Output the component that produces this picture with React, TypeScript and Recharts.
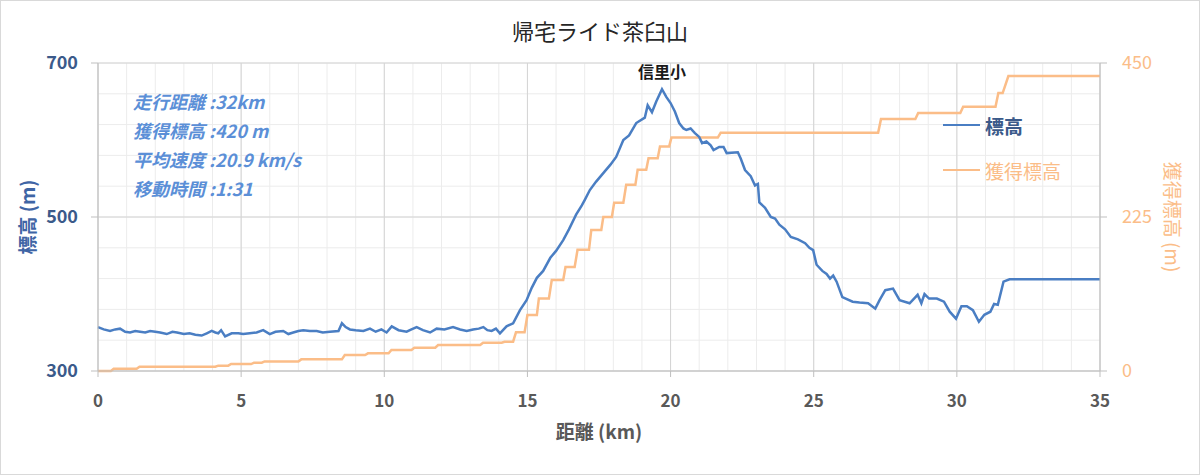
import {
  LineChart,
  Line,
  XAxis,
  YAxis,
  CartesianGrid,
  Label,
  ReferenceDot,
} from "recharts";

const FONT = '"Noto Sans CJK JP", "Noto Sans", sans-serif';

// 標高 (m) vs 距離 (km)
const elevKm = [
  0, 0.2, 0.42, 0.6, 0.77, 0.95, 1.12, 1.3, 1.47, 1.65, 1.82, 2.0, 2.17, 2.4, 2.6, 2.76, 3.0, 3.2, 3.4,
  3.62, 3.8, 3.97, 4.1, 4.2, 4.3, 4.44, 4.67, 4.9, 5.07, 5.3, 5.54, 5.77, 6.0, 6.2, 6.47, 6.65, 6.82,
  7.0, 7.17, 7.4, 7.64, 7.85, 8.1, 8.4, 8.52, 8.65, 8.8, 9.0, 9.27, 9.5, 9.7, 9.9, 10.08, 10.26, 10.5,
  10.78, 10.95, 11.13, 11.35, 11.6, 11.83, 12.1, 12.4, 12.65, 12.88, 13.1, 13.3, 13.46, 13.6, 13.75,
  13.9, 14.04, 14.27, 14.5, 14.74, 14.97, 15.15, 15.33, 15.55, 15.8, 16.0, 16.25, 16.45, 16.7, 16.9,
  17.0, 17.18, 17.4, 17.65, 17.9, 18.1, 18.35, 18.55, 18.8, 19.1, 19.2, 19.35, 19.5, 19.7, 19.85, 20.0,
  20.15, 20.3, 20.45, 20.55, 20.7, 20.85, 21.0, 21.1, 21.25, 21.4, 21.5, 21.7, 21.85, 21.96, 22.35,
  22.45, 22.6, 22.8, 22.95, 23.05, 23.1, 23.3, 23.5, 23.65, 23.8, 24.0, 24.2, 24.45, 24.7, 24.85, 24.98,
  25.1, 25.3, 25.45, 25.57, 25.68, 25.8, 26.0, 26.36, 26.6, 26.9, 27.15, 27.3, 27.5, 27.77, 28.0, 28.35,
  28.63, 28.76, 28.87, 29.03, 29.3, 29.55, 29.75, 29.97, 30.16, 30.35, 30.56, 30.77, 30.96, 31.17, 31.3,
  31.43, 31.63, 31.84, 35,
];
const elevM = [
  357, 354, 352, 354, 355, 351, 350, 352, 351, 350, 352, 351, 350, 348, 351, 350, 348, 349, 347,
  346, 349, 352, 350, 349, 353, 345, 349, 349, 348, 349, 350, 353, 348, 351, 352, 348, 350,
  352, 353, 352, 352, 350, 351, 352, 362, 357, 354, 353, 352, 355, 351, 354, 350, 358, 353,
  351, 354, 357, 353, 350, 355, 354, 357, 354, 352, 354, 355, 357, 353, 352,
  355, 349, 358, 362, 379, 392, 408, 421, 430, 447, 456, 470, 484, 503, 515,
  522, 535, 546, 557, 568, 578, 600, 606, 622, 629, 645, 636, 650, 666, 656, 648,
  637, 622, 615, 613, 615, 609, 604, 596, 598, 593, 587, 591, 591, 583, 584,
  576, 561, 553, 541, 543, 519, 512, 500, 498, 490, 484, 474, 471, 466, 460, 457,
  438, 430, 426, 420, 424, 416, 396, 390, 389, 388, 381, 392, 405, 407, 392, 388,
  399, 388, 400, 394, 394, 390, 377, 368, 384, 384, 379, 364, 373, 377, 387,
  386, 416, 419, 419,
];

// 獲得標高 (m) vs 距離 (km)
const gainKm = [
  0, 0.45, 0.55, 1.35, 1.45, 4.1, 4.2, 4.55, 4.65, 5.35, 5.45, 5.72, 5.82, 7.0, 7.1, 8.52, 8.62, 9.33,
  9.43, 10.15, 10.25, 10.95, 11.05, 11.78, 11.88, 13.35, 13.45, 14.1, 14.2, 14.5, 14.6, 14.9, 15.0,
  15.33, 15.4, 15.75, 15.85, 16.25, 16.33, 16.65, 16.75, 17.15, 17.23, 17.58, 17.65, 17.95, 18.03,
  18.35, 18.45, 18.77, 18.85, 19.15, 19.23, 19.55, 19.63, 19.95, 20.03, 21.65, 21.75, 27.25, 27.35,
  28.55, 28.65, 30.12, 30.22, 31.35, 31.45, 31.6, 31.8, 35,
];
const gainM = [
  0, 0, 3.4, 3.4, 6.3, 6.3, 7.8, 7.8, 10.2, 10.2, 12.2, 12.2, 14, 14, 17, 17, 23.4, 23.4,
  25.8, 25.8, 30.7, 30.7, 34, 34, 38, 38, 41.4, 41.4, 42.8, 42.8, 56.5, 56.5, 81.8,
  81.8, 106, 106, 133, 133, 152, 152, 177, 177, 206, 206, 225, 225, 246,
  246, 272, 272, 294, 294, 311, 311, 328, 328, 341, 341, 348, 348, 368,
  368, 377, 377, 386, 386, 406, 406, 431, 431,
];

const xTicks = [0, 5, 10, 15, 20, 25, 30, 35];
const xMinor = Array.from({ length: 36 }, (_, i) => i);
const leftTicks = [300, 500, 700];
const leftMinor = [300, 340, 380, 420, 460, 500, 540, 580, 620, 660, 700];
const rightTicks = [0, 225, 450];

const notes = ["走行距離 :32km", "獲得標高 :420 m", "平均速度 :20.9 km/s", "移動時間 :1:31"];
const peakName = "信里小";
const peakKm = 19.7;
const peakM = 666;

const elevData = elevKm.map((km, i) => ({ km, elev: elevM[i] }));
const gainData = gainKm.map((km, i) => ({ km, gain: gainM[i] }));

const BLUE = "#4a7ec3";
const ORANGE = "#fbbd88";

const legendItems = [
  { name: "標高", color: BLUE, text: "#3b5a8a", weight: 700 },
  { name: "獲得標高", color: ORANGE, text: ORANGE, weight: 400 },
];

export default function App() {
  return (
    <div style={{ position: "absolute", left: 0, top: 0, width: 1200, height: 475, background: "#fff" }}>
      <div
        style={{
          position: "absolute",
          left: 0,
          top: 15,
          width: 1200,
          textAlign: "center",
          fontFamily: FONT,
          fontSize: 22,
          lineHeight: "30px",
          color: "#262626",
        }}
      >
        帰宅ライド茶臼山
      </div>

      <LineChart width={1200} height={475} margin={{ top: 63, right: 40, bottom: 44, left: 38 }}>
        <CartesianGrid
          yAxisId="left"
          horizontalValues={leftMinor}
          verticalValues={xMinor}
          stroke="#ececec"
          strokeWidth={1}
        />
        <CartesianGrid
          yAxisId="left"
          horizontalValues={leftTicks}
          verticalValues={xTicks}
          stroke="#d4d4d4"
          strokeWidth={1}
        />
        <XAxis
          dataKey="km"
          type="number"
          domain={[0, 35]}
          ticks={xTicks}
          height={60}
          tickSize={6}
          tickMargin={18}
          axisLine={{ stroke: "#bfbfbf" }}
          tickLine={{ stroke: "#bfbfbf" }}
          tick={{ fill: "#595959", fontSize: 17, fontWeight: 700, fontFamily: FONT }}
        >
          <Label
            content={({ viewBox }: any) => (
              <text
                x={viewBox.x + viewBox.width / 2}
                y={439}
                textAnchor="middle"
                fill="#595959"
                fontSize={19}
                fontWeight={700}
                fontFamily={FONT}
              >
                距離 (km)
              </text>
            )}
          />
        </XAxis>
        <YAxis
          yAxisId="left"
          orientation="left"
          domain={[300, 700]}
          ticks={leftTicks}
          width={60}
          tickSize={7}
          tickMargin={13}
          axisLine={{ stroke: "#bfbfbf" }}
          tickLine={{ stroke: "#bfbfbf" }}
          tick={{ fill: "#3b5a8a", fontSize: 18, fontWeight: 700, fontFamily: FONT }}
        >
          <Label
            content={({ viewBox }: any) => {
              const cy = viewBox.y + viewBox.height / 2;
              return (
                <text
                  x={26}
                  y={cy}
                  transform={`rotate(-90 26 ${cy})`}
                  textAnchor="middle"
                  dominantBaseline="central"
                  fill="#3f65a5"
                  fontSize={19}
                  fontWeight={700}
                  fontFamily={FONT}
                >
                  標高 (m)
                </text>
              );
            }}
          />
        </YAxis>
        <YAxis
          yAxisId="right"
          orientation="right"
          domain={[0, 450]}
          ticks={rightTicks}
          width={60}
          tickSize={7}
          tickMargin={15}
          axisLine={{ stroke: "#bfbfbf" }}
          tickLine={{ stroke: "#bfbfbf" }}
          tick={{ fill: ORANGE, fontSize: 18, fontFamily: FONT }}
        >
          <Label
            content={({ viewBox }: any) => {
              const cy = viewBox.y + viewBox.height / 2;
              return (
                <text
                  x={1173}
                  y={cy}
                  transform={`rotate(90 1173 ${cy})`}
                  textAnchor="middle"
                  dominantBaseline="central"
                  fill={ORANGE}
                  fontSize={19}
                  fontFamily={FONT}
                >
                  獲得標高 (m)
                </text>
              );
            }}
          />
        </YAxis>
        <Line
          yAxisId="right"
          data={gainData}
          dataKey="gain"
          name="獲得標高"
          type="linear"
          stroke={ORANGE}
          strokeWidth={2.5}
          dot={false}
          isAnimationActive={false}
        />
        <Line
          yAxisId="left"
          data={elevData}
          dataKey="elev"
          name="標高"
          type="linear"
          stroke={BLUE}
          strokeWidth={2.5}
          dot={false}
          isAnimationActive={false}
        />
        <ReferenceDot
          yAxisId="left"
          x={peakKm}
          y={peakM}
          r={0}
          fill="none"
          stroke="none"
          label={{
            value: peakName,
            position: "top",
            offset: 11,
            fill: "#1a1a1a",
            fontSize: 16,
            fontWeight: 700,
            fontFamily: FONT,
          }}
        />
      </LineChart>

      {/* legend */}
      <div style={{ position: "absolute", left: 943, top: 112, fontFamily: FONT, fontSize: 19 }}>
        {legendItems.map((it, i) => (
          <div
            key={it.name}
            style={{ display: "flex", alignItems: "center", height: 26, marginBottom: i === 0 ? 19 : 0 }}
          >
            <div style={{ width: 37, height: 0, borderTop: `2.5px solid ${it.color}`, marginRight: 5 }} />
            <span style={{ color: it.text, fontWeight: it.weight }}>{it.name}</span>
          </div>
        ))}
      </div>

      <div
        style={{
          position: "absolute",
          left: 133,
          top: 87,
          fontFamily: FONT,
          fontSize: 18,
          lineHeight: "29px",
          fontStyle: "italic",
          fontWeight: 700,
          color: "#5b8fd7",
          whiteSpace: "pre",
        }}
      >
        {notes.map((n) => (
          <div key={n}>{n}</div>
        ))}
      </div>

      <div
        style={{
          position: "absolute",
          inset: 0,
          border: "1px solid #d9d9d9",
          pointerEvents: "none",
        }}
      />
    </div>
  );
}
